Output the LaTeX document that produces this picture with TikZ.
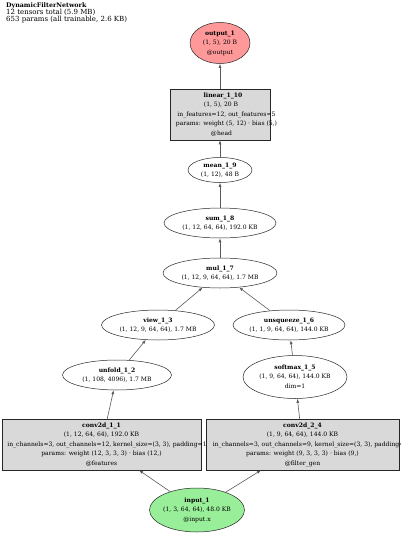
\documentclass[tikz,border=0pt]{standalone}
\usepackage{fontspec}
\setmainfont{DejaVu Serif}
\usetikzlibrary{shapes.geometric,arrows.meta}
\newcommand\tlbl[1]{\makebox[0pt]{\smash{\raisebox{-1.5pt}{\begin{tabular}{@{}c@{}}#1\end{tabular}}}}}
\newcommand\sh[1]{\hspace*{#1}}
\definecolor{outred}{HTML}{FF9999}
\definecolor{inpgreen}{HTML}{99EE99}
\definecolor{boxgray}{HTML}{D9D9D9}
\tikzset{
  base/.style={draw=black!85, line width=0.5pt, inner sep=0pt, font=\fontsize{6.05}{9.5}\selectfont},
  oval/.style={base, ellipse},
  opbox/.style={base, rectangle, fill=boxgray},
  conn/.style={draw=black!65, line width=0.6pt, -{Latex[length=4pt,width=3pt]}}
}
\begin{document}
\begin{tikzpicture}[x=1pt,y=-1pt]
\useasboundingbox (0,0) rectangle (400,535);
% header
\node[anchor=north west, inner sep=0pt, align=left, font=\fontsize{7}{7}\selectfont] (hdr) at (6,2.5)
  {{\fontsize{6.3}{7}\selectfont\textbf{DynamicFilterNetwork}}\\12 tensors total (5.9 MB)\\653 params (all trainable, 2.6 KB)};
% nodes
\node[oval, fill=outred, minimum width=60, minimum height=41] (out) at (220,43)
  {\tlbl{\textbf{output\_1}\\(1, 5), 20 B\\@output}};
\node[opbox, minimum width=100, minimum height=51] (lin) at (220,114.5)
  {\tlbl{\sh{6pt}\textbf{linear\_1\_10}\\\sh{2pt}(1, 5), 20 B\\\sh{13pt}in\_features=12, out\_features=5\\\sh{13pt}params: weight (5, 12) · bias (5,)\\\sh{3pt}@head}};
\node[oval, fill=white, minimum width=64, minimum height=25] (mean) at (220,170)
  {\tlbl{\textbf{mean\_1\_9}\\(1, 12), 48 B}};
\node[oval, fill=white, minimum width=112, minimum height=30] (sum) at (220,223)
  {\tlbl{\textbf{sum\_1\_8}\\(1, 12, 64, 64), 192.0 KB}};
\node[oval, fill=white, minimum width=114, minimum height=30] (mul) at (220,273)
  {\tlbl{\textbf{mul\_1\_7}\\(1, 12, 9, 64, 64), 1.7 MB}};
\node[oval, fill=white, minimum width=113, minimum height=30] (view) at (158,325)
  {\tlbl{\textbf{view\_1\_3}\\(1, 12, 9, 64, 64), 1.7 MB}};
\node[oval, fill=white, minimum width=112, minimum height=30] (unsq) at (289,325)
  {\tlbl{\textbf{unsqueeze\_1\_6}\\(1, 1, 9, 64, 64), 144.0 KB}};
\node[oval, fill=white, minimum width=109, minimum height=30] (unf) at (117,375)
  {\tlbl{\textbf{unfold\_1\_2}\\(1, 108, 4096), 1.7 MB}};
\node[oval, fill=white, minimum width=104, minimum height=43] (soft) at (295,377)
  {\tlbl{\textbf{softmax\_1\_5}\\(1, 9, 64, 64), 144.0 KB\\dim=1}};
\node[opbox, minimum width=199, minimum height=51] (c11) at (101.5,444.5)
  {\tlbl{\textbf{conv2d\_1\_1}\\(1, 12, 64, 64), 192.0 KB\\\sh{11pt}in\_channels=3, out\_channels=12, kernel\_size=(3, 3), padding=1\\params: weight (12, 3, 3, 3) · bias (12,)\\@features}};
\node[opbox, minimum width=193, minimum height=51] (c24) at (302.5,444.5)
  {\tlbl{\textbf{conv2d\_2\_4}\\(1, 9, 64, 64), 144.0 KB\\\sh{16pt}in\_channels=3, out\_channels=9, kernel\_size=(3, 3), padding=1\\params: weight (9, 3, 3, 3) · bias (9,)\\@filter\_gen}};
\node[oval, fill=inpgreen, minimum width=95, minimum height=44] (inp) at (197,510)
  {\tlbl{\textbf{input\_1}\\(1, 3, 64, 64), 48.0 KB\\@input.x}};
% edges
\draw[conn] (inp) -- (c11);
\draw[conn] (inp) -- (c24);
\draw[conn] (c11) -- (unf);
\draw[conn] (unf) -- (view);
\draw[conn] (view) -- (mul);
\draw[conn] (c24) -- (soft);
\draw[conn] (soft) -- (unsq);
\draw[conn] (unsq) -- (mul);
\draw[conn] (mul) -- (sum);
\draw[conn] (sum) -- (mean);
\draw[conn] (mean) -- (lin);
\draw[conn] (lin) -- (out);
\end{tikzpicture}
\end{document}
